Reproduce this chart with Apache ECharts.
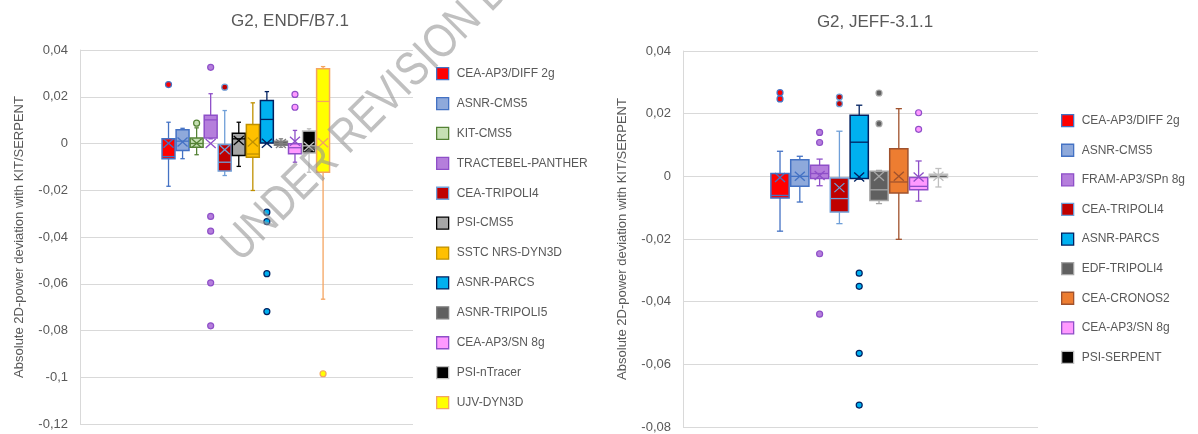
<!DOCTYPE html>
<html><head><meta charset="utf-8">
<script src="https://cdn.jsdelivr.net/npm/echarts@6/dist/echarts.min.js"></script>
<style>html,body{margin:0;padding:0;background:#fff}#c{width:1198px;height:434px}</style>
</head><body><div id="c"></div>
<script>
// ---------- data ----------
const leftTitle = 'G2, ENDF/B7.1';
const rightTitle = 'G2, JEFF-3.1.1';
const yAxisName = 'Absolute 2D-power deviation with KIT/SERPENT';

const leftNames = ['CEA-AP3/DIFF 2g','ASNR-CMS5','KIT-CMS5','TRACTEBEL-PANTHER','CEA-TRIPOLI4','PSI-CMS5','SSTC NRS-DYN3D','ASNR-PARCS','ASNR-TRIPOLI5','CEA-AP3/SN 8g','PSI-nTracer','UJV-DYN3D'];
const leftMin    = [-0.0183,-0.0065,-0.0048, 0.0020,-0.0137,-0.0098,-0.0201, 0.0000,-0.0016,-0.0080,-0.0123,-0.0666];
const leftQ1     = [-0.0065,-0.0030,-0.0016, 0.0024,-0.0118,-0.0051,-0.0059, 0.0002,-0.0008,-0.0044,-0.0041,-0.0123];
const leftMedian = [-0.0056, 0.0010, 0.0000, 0.0101,-0.0080, 0.0020,-0.0045, 0.0103, 0.0000,-0.0018,-0.0010, 0.0180];
const leftQ3     = [ 0.0020, 0.0059, 0.0023, 0.0121,-0.0004, 0.0044, 0.0081, 0.0184, 0.0010,-0.0001, 0.0053, 0.0320];
const leftMax    = [ 0.0091, 0.0065, 0.0067, 0.0213, 0.0141, 0.0091, 0.0174, 0.0222, 0.0020, 0.0056, 0.0063, 0.0329];
const leftMean   = [ 0.0001, 0.0006, 0.0001, 0.0000,-0.0027, 0.0013, 0.0006, 0.0001, 0.0000, 0.0010,-0.0013, 0.0003];
const leftOutliers = [[0.0252],[],[0.0087],[0.0326,-0.0312,-0.0375,-0.0596,-0.0780],[0.0241],[],[],[-0.0294,-0.0334,-0.0557,-0.0719],[],[0.0210,0.0155],[],[-0.0985]];

const rightNames = ['CEA-AP3/DIFF 2g','ASNR-CMS5','FRAM-AP3/SPn 8g','CEA-TRIPOLI4','ASNR-PARCS','EDF-TRIPOLI4','CEA-CRONOS2','CEA-AP3/SN 8g','PSI-SERPENT'];
const rightMin    = [-0.0175,-0.0082,-0.0030,-0.0151,-0.0009,-0.0087,-0.0201,-0.0079,-0.0034];
const rightQ1     = [-0.0069,-0.0032,-0.0007,-0.0114,-0.0007,-0.0077,-0.0053,-0.0043,-0.0004];
const rightMedian = [-0.0061, 0.0000, 0.0009,-0.0071, 0.0109,-0.0043,-0.0018,-0.0032, 0.0002];
const rightQ3     = [ 0.0009, 0.0053, 0.0035,-0.0005, 0.0195, 0.0016, 0.0088,-0.0004, 0.0007];
const rightMax    = [ 0.0080, 0.0064, 0.0055, 0.0144, 0.0227, 0.0019, 0.0216, 0.0049, 0.0025];
const rightMean   = [-0.0004, 0.0000, 0.0003,-0.0036,-0.0002, 0.0000, 0.0000,-0.0002, 0.0000];
const rightOutliers = [[0.0267,0.0247],[],[0.0140,0.0108,-0.0247,-0.0440],[0.0253,0.0232],[-0.0309,-0.0351,-0.0565,-0.0730],[0.0266,0.0168],[],[0.0203,0.0150],[]];

// ---------- styles ----------
const leftFill   = ['#FF0000','#8EA9DB','#C6E0B4','#B57EDC','#C00000','#A6A6A6','#FFC000','#00B0F0','#606060','#FF99FF','#000000','#FFFF00'];
const leftBorder = ['#4472C4','#4472C4','#548235','#8E4FC8','#6F9FD8','#000000','#BF9000','#002060','#7F7F7F','#8E4FC8','#BFBFBF','#F4A460'];
const rightFill   = ['#FF0000','#8EA9DB','#B57EDC','#C00000','#00B0F0','#606060','#ED7D31','#FF99FF','#000000'];
const rightBorder = ['#4472C4','#4472C4','#8E4FC8','#6F9FD8','#002060','#A6A6A6','#A0522D','#8E4FC8','#BFBFBF'];

const FONT = 'Liberation Sans, Arial, sans-serif';

function makeRender(fill, stroke) {
  return function (params, api) {
    const x = api.value(0);
    const p = [1, 2, 3, 4, 5, 6].map(d => api.coord([x, api.value(d)]));
    const cx = p[0][0];
    const w = api.size([0.92, 0])[0];
    const cap = Math.max(2, w * 0.17);
    const ls = { stroke: stroke, lineWidth: 1.3 };
    const mx = p[5][0], my = p[5][1];
    return {
      type: 'group',
      children: [
        { type: 'line', shape: { x1: cx, y1: p[4][1], x2: cx, y2: p[3][1] }, style: ls },
        { type: 'line', shape: { x1: cx, y1: p[1][1], x2: cx, y2: p[0][1] }, style: ls },
        { type: 'line', shape: { x1: cx - cap, y1: p[4][1], x2: cx + cap, y2: p[4][1] }, style: ls },
        { type: 'line', shape: { x1: cx - cap, y1: p[0][1], x2: cx + cap, y2: p[0][1] }, style: ls },
        { type: 'rect', shape: { x: cx - w / 2, y: p[3][1], width: w, height: p[1][1] - p[3][1] }, style: { fill: fill, stroke: stroke, lineWidth: 1.5 } },
        { type: 'line', shape: { x1: cx - w / 2, y1: p[2][1], x2: cx + w / 2, y2: p[2][1] }, style: { stroke: stroke, lineWidth: 1.3 } },
        { type: 'line', shape: { x1: mx - 5, y1: my - 4.5, x2: mx + 5, y2: my + 4.5 }, style: { stroke: stroke, lineWidth: 1.3 } },
        { type: 'line', shape: { x1: mx - 5, y1: my + 4.5, x2: mx + 5, y2: my - 4.5 }, style: { stroke: stroke, lineWidth: 1.3 } }
      ]
    };
  };
}

function buildSeries(gi, names, mins, q1s, meds, q3s, maxs, means, outs, fills, borders) {
  const s = [];
  names.forEach((n, i) => {
    s.push({
      type: 'custom', name: n, xAxisIndex: gi, yAxisIndex: gi, silent: true, z: 3,
      itemStyle: { color: fills[i], borderColor: borders[i] },
      renderItem: makeRender(fills[i], borders[i]),
      encode: { x: 0, y: [1, 2, 3, 4, 5, 6] },
      data: [[i, mins[i], q1s[i], meds[i], q3s[i], maxs[i], means[i]]]
    });
    if (outs[i].length) {
      s.push({
        type: 'scatter', name: n, xAxisIndex: gi, yAxisIndex: gi, silent: true, z: 4,
        symbol: 'circle', symbolSize: 6,
        itemStyle: { color: fills[i], borderColor: borders[i], borderWidth: 1.2, opacity: 1 },
        data: outs[i].map(v => [i, v])
      });
    }
  });
  return s;
}

function fmt(v) {
  if (Math.abs(v) < 1e-9) return '0';
  return String(+v.toFixed(2)).replace('.', ',');
}

function yAxisCfg(gi, min, max) {
  return {
    gridIndex: gi, type: 'value', min: min, max: max, interval: 0.02,
    axisLine: { show: true, onZero: false, lineStyle: { color: '#D9D9D9', width: 1 } },
    axisTick: { show: false },
    splitLine: { show: true, lineStyle: { color: '#D9D9D9', width: 1 } },
    axisLabel: { formatter: fmt, color: '#595959', fontSize: 13, fontFamily: FONT, margin: 12 },
    name: yAxisName, nameLocation: 'middle', nameGap: 54,
    nameTextStyle: { color: '#595959', fontSize: 13, fontFamily: FONT }
  };
}

function legendCfg(names, fills, borders, left, top, gap) {
  return {
    orient: 'vertical', left: left, top: top, itemWidth: 12, itemHeight: 12, itemGap: gap,
    icon: 'rect', selectedMode: false, padding: 0,
    textStyle: { color: '#595959', fontSize: 12, fontFamily: FONT, lineHeight: 12, padding: [0, 0, 0, 3] },
    data: names.map((n, i) => ({ name: n, itemStyle: { color: fills[i], borderColor: borders[i], borderWidth: 1.3 } }))
  };
}

const chart = echarts.init(document.getElementById('c'), null, { renderer: 'canvas' });
chart.setOption({
  backgroundColor: '#fff',
  animation: false,
  grid: [
    { left: 80, top: 50, width: 333, height: 374 },
    { left: 683, top: 51, width: 355, height: 376 }
  ],
  xAxis: [
    { gridIndex: 0, type: 'value', min: -6.3, max: 17.4, show: false },
    { gridIndex: 1, type: 'value', min: -4.9, max: 13.03, show: false }
  ],
  yAxis: [yAxisCfg(0, -0.12, 0.04), yAxisCfg(1, -0.08, 0.04)],
  legend: [
    legendCfg(leftNames, leftFill, leftBorder, 436, 67, 16.6),
    legendCfg(rightNames, rightFill, rightBorder, 1061, 114, 16.3)
  ],
  graphic: [
    { type: 'text', x: 290, y: 21, style: { text: leftTitle, fill: '#595959', font: '17px ' + FONT, textAlign: 'center', textVerticalAlign: 'middle' } },
    { type: 'text', x: 875, y: 22, style: { text: rightTitle, fill: '#595959', font: '17px ' + FONT, textAlign: 'center', textVerticalAlign: 'middle' } },
    { type: 'text', x: 231, y: 254, rotation: Math.PI / 4, scaleX: 0.83, z: 100, silent: true,
      style: { text: 'UNDER REVISION B', fill: 'rgba(150,150,150,0.6)', font: '48px ' + FONT, textAlign: 'left', textVerticalAlign: 'middle' } }
  ],
  series: [].concat(
    buildSeries(0, leftNames, leftMin, leftQ1, leftMedian, leftQ3, leftMax, leftMean, leftOutliers, leftFill, leftBorder),
    buildSeries(1, rightNames, rightMin, rightQ1, rightMedian, rightQ3, rightMax, rightMean, rightOutliers, rightFill, rightBorder)
  )
});
</script>
</body></html>
